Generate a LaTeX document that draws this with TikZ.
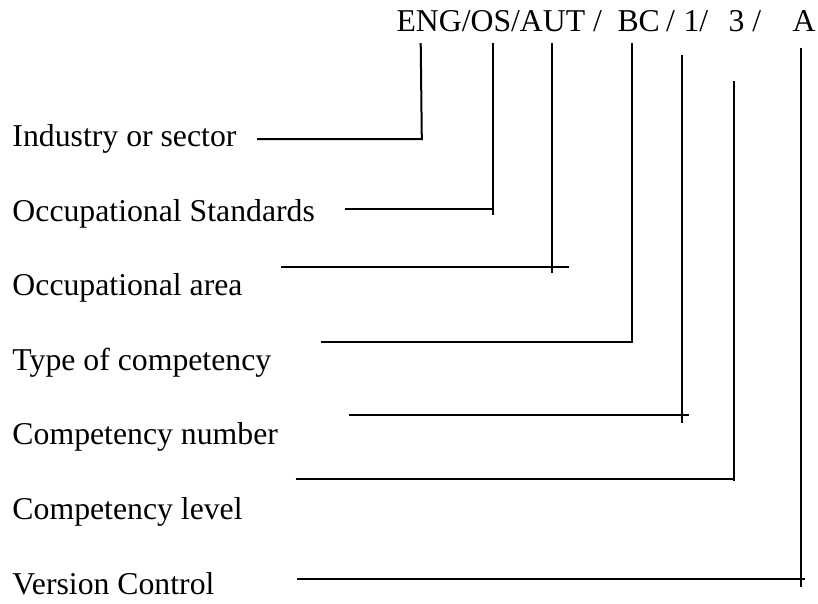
\documentclass[tikz,border=0pt]{standalone}
\usepackage{fontspec}
\setmainfont{Liberation Serif}
\begin{document}
\begin{tikzpicture}[x=0.4pt,y=-0.4pt,
  lbl/.style={anchor=base west,inner sep=0pt,font=\fontsize{12.7}{14}\selectfont},
  leader/.style={line width=0.8pt,black}]
\useasboundingbox (0,0) rectangle (818,603);
% code header
\node[lbl] (eng) at (396,31) {ENG/OS/AUT /};
\node[lbl] (bc) at (617,31) {BC\hspace{0.2em}/};
\node[lbl] (one) at (683,31) {1/};
\node[lbl] (three) at (728,31) {3 /};
\node[lbl] (ver) at (792,31) {A};
% labels
\node[lbl] (l1) at (12,146.7) {Industry or sector};
\node[lbl] (l2) at (12,221.2) {Occupational Standards};
\node[lbl] (l3) at (12,295.8) {Occupational area};
\node[lbl] (l4) at (12,370.3) {Type of competency};
\node[lbl] (l5) at (12,444.9) {Competency number};
\node[lbl] (l6) at (12,519.4) {Competency level};
\node[lbl] (l7) at (12,594) {Version Control};
% leader coordinates
\coordinate (t1) at (420.7,43);  \coordinate (b1) at (421.8,139);   \coordinate (e1) at (257,139);
\coordinate (t2) at (493.3,43);  \coordinate (b2) at (493.3,215);   \coordinate (k2) at (493.3,209.3); \coordinate (e2) at (345,209.3);
\coordinate (t3) at (552,43);    \coordinate (b3) at (552,273);     \coordinate (k3) at (569,266.6);   \coordinate (e3) at (281,266.6);
\coordinate (t4) at (631.5,43);  \coordinate (b4) at (631.5,341.5); \coordinate (e4) at (321,341.5);
\coordinate (t5) at (681.5,55);  \coordinate (b5) at (681.5,423);   \coordinate (k5) at (689,415);     \coordinate (e5) at (349,415);
\coordinate (t6) at (733.5,81);  \coordinate (b6) at (733.5,481);   \coordinate (k6) at (735,479);     \coordinate (e6) at (295.5,479);
\coordinate (t7) at (801,47.5);  \coordinate (b7) at (801,587);     \coordinate (k7) at (804.5,579.3); \coordinate (e7) at (297,579.3);
% leaders
\draw[leader] (t1) -- (b1) -- (e1);
\draw[leader] (t2) -- (b2) (e2) -- (k2);
\draw[leader] (t3) -- (b3) (e3) -- (k3);
\draw[leader] (t4) -- (b4) -- (e4);
\draw[leader] (t5) -- (b5) (e5) -- (k5);
\draw[leader] (t6) -- (b6) (e6) -- (k6);
\draw[leader] (t7) -- (b7) (e7) -- (k7);
\end{tikzpicture}
\end{document}
